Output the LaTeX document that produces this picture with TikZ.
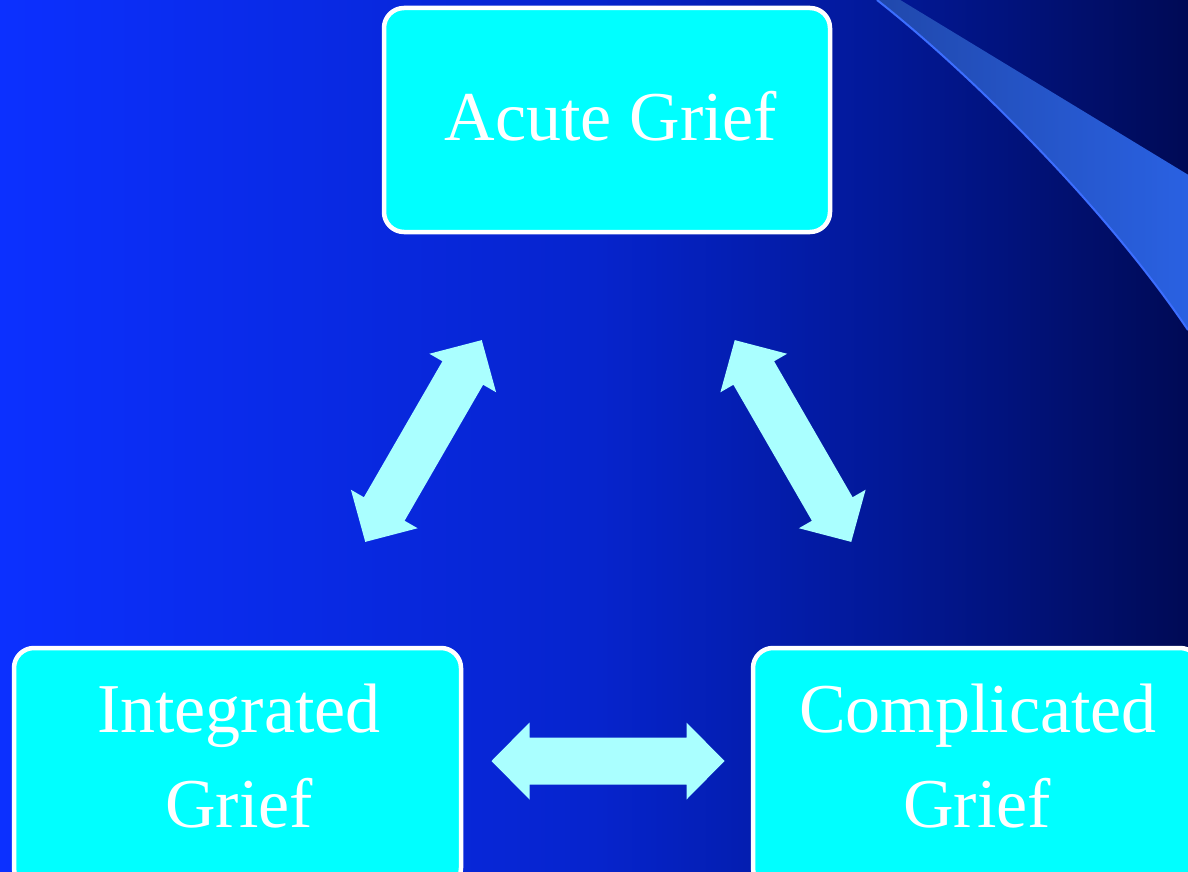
\documentclass[tikz,border=0pt]{standalone}
\usepackage{fontspec}
\setmainfont{Liberation Serif}
\definecolor{bgA}{RGB}{12,48,255}
\definecolor{bgB}{RGB}{6,36,205}
\definecolor{bgC}{RGB}{2,24,150}
\definecolor{bgD}{RGB}{0,10,85}
\definecolor{swL}{RGB}{32,72,172}
\definecolor{swR}{RGB}{42,98,228}
\definecolor{swEdge}{RGB}{60,110,255}
\definecolor{boxfill}{RGB}{0,255,255}
\definecolor{arrowfill}{RGB}{170,255,255}
\pgfdeclarehorizontalshading{bgshade}{100bp}{color(0bp)=(bgA); color(25bp)=(bgA); color(50bp)=(bgB); color(62.5bp)=(bgC); color(75bp)=(bgD); color(100bp)=(bgD)}
\tikzset{
  gbox/.style={draw=white, line width=4.5pt, fill=boxfill, rounded corners=20pt, rectangle, inner sep=0pt},
  gtext/.style={text=white, font=\fontsize{70}{84}\selectfont, anchor=base, inner sep=0pt},
  dblarrow/.pic={
    \fill[arrowfill] (-116.5,0) -- (-78.5,38.5) -- (-78.5,23.5) -- (78.5,23.5) -- (78.5,38.5)
      -- (116.5,0) -- (78.5,-38.5) -- (78.5,-23.5) -- (-78.5,-23.5) -- (-78.5,-38.5) -- cycle;
  }
}
\begin{document}
\begin{tikzpicture}[x=1pt,y=-1pt]
\useasboundingbox (0,0) rectangle (1188,872);
\clip (0,0) rectangle (1188,872);
% background
\shade[shading=bgshade] (0,0) rectangle (1188,872);
% swoosh
\shade[left color=swL, right color=swR] (877,-2) -- (897,-2) -- (1200,182) -- (1200,350)
  -- (1188,330) .. controls (1100,200) and (960,65) .. (877,0) -- cycle;
\draw[swEdge, line width=2pt] (1188,330) .. controls (1100,200) and (960,65) .. (877,0);
% boxes
\node[gbox, minimum width=446pt, minimum height=224pt] (acute) at (607,120) {};
\node[gbox, minimum width=447pt, minimum height=240pt] (integrated) at (237.5,768) {};
\node[gbox, minimum width=447pt, minimum height=240pt] (complicated) at (976.5,768) {};
% texts
\node[gtext] (acutetxt) at (611,141) {Acute Grief};
\node[gtext] (inttxtA) at (239,732) {Integrated};
\node[gtext] (inttxtB) at (239,827) {Grief};
\node[gtext] (comptxtA) at (978,732) {Complicated};
\node[gtext] (comptxtB) at (977,827) {Grief};
% arrows
\pic[rotate=60] at (423.5,441) {dblarrow};
\pic[rotate=-60] at (793,441) {dblarrow};
\pic at (608,761) {dblarrow};
\end{tikzpicture}
\end{document}
